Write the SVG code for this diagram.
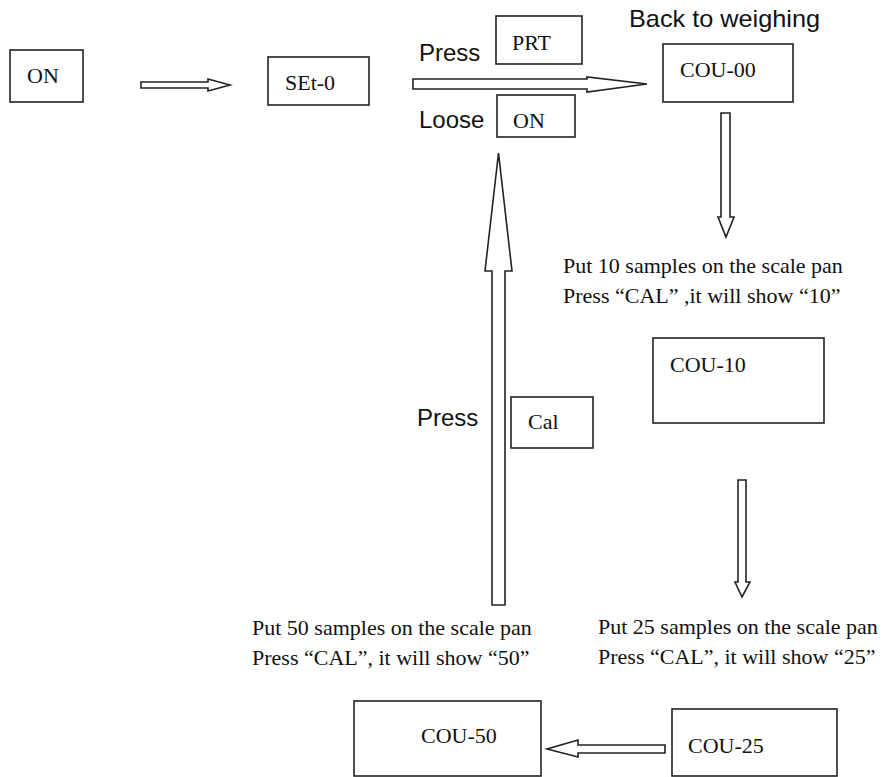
<svg xmlns="http://www.w3.org/2000/svg" width="890" height="777" viewBox="0 0 890 777">
<style>
.box{fill:#fff;stroke:#222;stroke-width:1.6}
.arr{fill:#fff;stroke:#222;stroke-width:1.6;stroke-linejoin:miter}
.t{font-family:"Liberation Serif",serif;font-size:22px;fill:#111}
.d{font-family:"Liberation Serif",serif;font-size:22px;fill:#111}
.s{font-family:"Liberation Sans",Arial,sans-serif;font-size:24px;fill:#111}
</style>
<rect width="890" height="777" fill="#fff"/>
<g id="connectors">
<path class="arr" d="M141,82 H208 V79 L230,85 L208,91 V88 H141 Z"/>
<path class="arr" d="M413,79 H587 V77 L647,84 L587,92 V89 H413 Z"/>
<path class="arr" d="M721,113 H730 V217 H734 L726,237 L718,217 H721 Z"/>
<path class="arr" d="M738,480 H746 V582 H750 L742,597 L735,582 H738 Z"/>
<path class="arr" d="M492,605 V271 H485 L498.5,153 L512,271 H505 V605 Z"/>
<path class="arr" d="M665,745 H578 V740 L547,749 L578,757 V753 H665 Z"/>
</g>
<g id="node-on"><rect class="box" x="10" y="50" width="73" height="52"/><text class="t" x="27" y="83">ON</text></g>
<g id="node-set0"><rect class="box" x="268" y="57" width="101" height="48"/><text class="t" x="285" y="90">SEt-0</text></g>
<g id="label-press-prt"><text class="s" x="419" y="61">Press</text><rect class="box" x="496" y="16" width="86" height="48"/><text class="t" x="512" y="50">PRT</text></g>
<g id="label-loose-on"><text class="s" x="419" y="128">Loose</text><rect class="box" x="497" y="95" width="78" height="42"/><text class="t" x="513" y="128">ON</text></g>
<g id="node-cou00"><text class="s" x="629" y="27" textLength="191" lengthAdjust="spacingAndGlyphs">Back to weighing</text><rect class="box" x="663" y="44" width="130" height="58"/><text class="t" x="680" y="77">COU-00</text></g>
<g id="text-10"><text class="d" x="563" y="273">Put 10 samples on the scale pan</text><text class="d" x="563" y="303">Press “CAL” ,it will show “10”</text></g>
<g id="node-cou10"><rect class="box" x="653" y="338" width="171" height="85"/><text class="t" x="670" y="372">COU-10</text></g>
<g id="label-press-cal"><text class="s" x="417" y="426">Press</text><rect class="box" x="511" y="397" width="82" height="51"/><text class="t" x="528" y="429">Cal</text></g>
<g id="text-50"><text class="d" x="252" y="635">Put 50 samples on the scale pan</text><text class="d" x="252" y="665">Press “CAL”, it will show “50”</text></g>
<g id="text-25"><text class="d" x="598" y="634">Put 25 samples on the scale pan</text><text class="d" x="598" y="664">Press “CAL”, it will show “25”</text></g>
<g id="node-cou50"><rect class="box" x="354" y="701" width="187" height="75"/><text class="t" x="421" y="743">COU-50</text></g>
<g id="node-cou25"><rect class="box" x="672" y="709" width="165" height="67"/><text class="t" x="688" y="753">COU-25</text></g>
</svg>
